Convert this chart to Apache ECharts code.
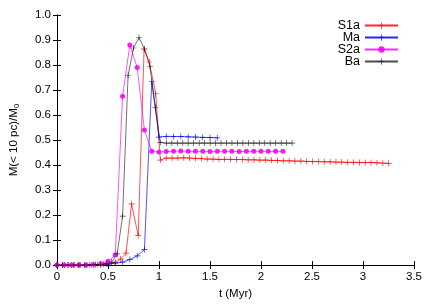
<!DOCTYPE html>
<html><head><meta charset="utf-8">
<script src="https://cdn.jsdelivr.net/npm/echarts@6/dist/echarts.min.js"></script>
<style>html,body{margin:0;padding:0;background:#fff}#c{width:436px;height:305px}</style>
</head><body><div id="c"></div>
<script>
// ---- data ----
const xTicks = [0, 0.5, 1, 1.5, 2, 2.5, 3, 3.5];
const yTicks = [0.0, 0.1, 0.2, 0.3, 0.4, 0.5, 0.6, 0.7, 0.8, 0.9, 1.0];

const s1aX = [0,0.057,0.114,0.171,0.228,0.285,0.342,0.399,0.456,0.513,0.570,0.624,0.677,0.731,0.796,0.854,0.905,0.968,1.013,
  1.070,1.128,1.185,1.243,1.300,1.357,1.415,1.472,1.530,1.587,1.644,1.702,1.759,1.817,1.874,1.931,1.989,2.046,2.104,2.161,
  2.218,2.276,2.333,2.391,2.448,2.505,2.563,2.620,2.678,2.735,2.792,2.850,2.907,2.965,3.022,3.079,3.137,3.194,3.252];
const s1aY = [0,0,0,0,0,0,0.001,0.002,0.004,0.006,0.010,0.024,0.048,0.245,0.118,0.864,0.812,0.685,0.420,
  0.428,0.428,0.428,0.429,0.428,0.427,0.426,0.424,0.424,0.423,0.423,0.423,0.422,0.422,0.421,0.421,0.420,0.420,0.419,0.418,
  0.417,0.417,0.416,0.416,0.415,0.414,0.414,0.413,0.413,0.412,0.412,0.411,0.411,0.410,0.410,0.410,0.409,0.408,0.407];

const maX = [0,0.071,0.143,0.214,0.286,0.357,0.429,0.500,0.571,0.643,0.714,0.786,0.857,0.929,1.000,1.071,1.143,1.214,1.286,1.357,1.429,1.500,1.571];
const maY = [0,0,0,0,0,0.001,0.002,0.004,0.008,0.012,0.022,0.037,0.062,0.733,0.512,0.515,0.514,0.514,0.513,0.512,0.511,0.510,0.509];

const s2aX = [0,0.071,0.143,0.214,0.286,0.357,0.429,0.500,0.571,0.643,0.714,0.786,0.857,0.929,1.000,1.071,1.143,1.214,1.286,1.357,
  1.429,1.500,1.571,1.643,1.714,1.786,1.857,1.929,2.000,2.071,2.143,2.214];
const s2aY = [0,0,0,0,0,0.002,0.005,0.015,0.040,0.675,0.880,0.790,0.540,0.455,0.452,0.454,0.455,0.456,0.455,0.455,
  0.455,0.454,0.455,0.455,0.455,0.454,0.455,0.455,0.455,0.455,0.455,0.455];

const baX = [0,0.054,0.107,0.161,0.214,0.268,0.322,0.375,0.429,0.483,0.536,0.590,0.643,0.697,0.750,0.804,0.858,0.911,0.965,1.012,
  1.072,1.126,1.179,1.233,1.286,1.340,1.394,1.447,1.501,1.554,1.608,1.662,1.715,1.769,1.822,1.876,1.930,1.983,2.037,2.090,
  2.144,2.198,2.251,2.305];
const baY = [0,0,0,0,0,0,0.001,0.002,0.003,0.005,0.012,0.045,0.196,0.759,0.868,0.910,0.864,0.795,0.630,0.490,
  0.488,0.488,0.488,0.488,0.488,0.488,0.488,0.488,0.488,0.488,0.488,0.488,0.488,0.488,0.488,0.488,0.488,0.488,0.488,0.488,
  0.488,0.488,0.488,0.488];

const names = ['S1a', 'Ma', 'S2a', 'Ba'];
const colors = ['#ff0000', '#0000ff', '#ff00ff', '#000000'];

// ---- chart ----
const FONT = 'Liberation Sans, Arial, sans-serif';
const plus = 'path://M4,0H5V4H9V5H5V9H4V5H0V4H4Z';
const pairs = (xs, ys) => xs.map((x, i) => [x, ys[i]]);
const allX = [s1aX, maX, s2aX, baX];
const allY = [s1aY, maY, s2aY, baY];

const series = names.map((n, i) => ({
  name: n,
  type: 'line',
  xAxisIndex: 0, yAxisIndex: 0,
  data: pairs(allX[i], allY[i]),
  symbol: i === 2 ? 'circle' : plus,
  symbolSize: i === 2 ? 5 : 6,
  showSymbol: true,
  clip: false,
  animation: false,
  color: colors[i],
  lineStyle: { width: 0.8, color: colors[i], opacity: i === 3 ? 0.7 : 0.85 },
  itemStyle: { color: colors[i], opacity: i === 3 ? 0.75 : 0.9 }
}));

const legendTops = [19, 31, 43, 55];
const legends = names.map((n, i) => ({
  data: [n],
  right: 37,
  top: legendTops[i],
  align: 'right',
  orient: 'vertical',
  itemWidth: 33,
  itemHeight: 8,
  itemGap: 0,
  padding: 0,
  textStyle: { fontFamily: FONT, fontSize: 12.5, color: '#000' },
  selectedMode: false
}));

const axisCommon = {
  axisLine: { show: true, lineStyle: { color: '#000', width: 1 } },
  axisTick: { show: true, inside: true, length: 4, lineStyle: { color: '#000' } },
  splitLine: { show: false }
};

const option = {
  backgroundColor: '#fff',
  animation: false,
  textStyle: { fontFamily: FONT },
  grid: { left: 53, right: 22, top: 15, bottom: 38, containLabel: false },
  legend: legends,
  xAxis: [
    Object.assign({}, axisCommon, {
      type: 'value', min: xTicks[0], max: xTicks[xTicks.length - 1], interval: 0.5,
      name: 't (Myr)', nameLocation: 'middle', nameGap: 22,
      nameTextStyle: { fontFamily: FONT, fontSize: 11.5, color: '#000' },
      axisLabel: { fontFamily: FONT, fontSize: 11.5, color: '#000', margin: 6,
        formatter: v => String(+v.toFixed(1)) }
    }),
    Object.assign({}, axisCommon, {
      type: 'value', position: 'top', min: xTicks[0], max: xTicks[xTicks.length - 1], interval: 0.5,
      axisLabel: { show: false }
    })
  ],
  yAxis: [
    Object.assign({}, axisCommon, {
      type: 'value', min: yTicks[0], max: yTicks[yTicks.length - 1], interval: 0.1,
      name: 'M(< 10 pc)/M{sub|0}', nameLocation: 'middle', nameGap: 36, nameRotate: 90,
      nameTextStyle: { fontFamily: FONT, fontSize: 11.5, color: '#000',
        rich: { sub: { fontFamily: FONT, fontSize: 8, color: '#000', verticalAlign: 'bottom', padding: [6, 0, 0, 0] } } },
      axisLabel: { fontFamily: FONT, fontSize: 11.5, color: '#000', margin: 6,
        formatter: v => v.toFixed(1) }
    }),
    Object.assign({}, axisCommon, {
      type: 'value', position: 'right', min: yTicks[0], max: yTicks[yTicks.length - 1], interval: 0.1,
      axisLabel: { show: false }
    })
  ],
  series: series
};

const chart = echarts.init(document.getElementById('c'), null, { renderer: 'canvas' });
chart.setOption(option);
</script>
</body></html>
